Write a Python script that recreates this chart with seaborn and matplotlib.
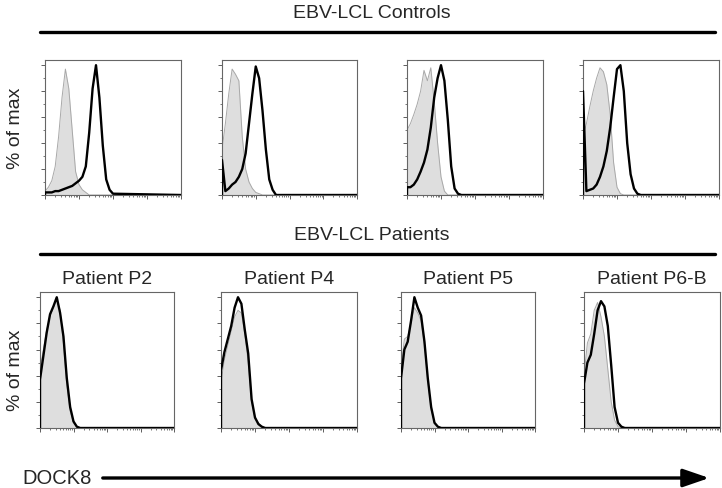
import numpy as np
import matplotlib
matplotlib.use("Agg")
import matplotlib.pyplot as plt
import seaborn as sns
from matplotlib.lines import Line2D
from matplotlib.patches import FancyArrowPatch

# --- data: % of max, x in log decades ---
decades = [0.0, 0.1, 0.2, 0.3, 0.4, 0.5, 0.6, 0.7, 0.8, 0.9, 1.0,
           1.1, 1.2, 1.3, 1.4, 1.5, 1.6, 1.7, 1.8, 1.9, 2.0, 4.0]

ctrl1_gray = [3, 6, 11, 22, 45, 75, 97, 82, 50, 18, 8, 4, 2, 0, 0, 0, 0, 0, 0, 0, 0, 0]
ctrl1_black = [2, 2, 2, 3, 3, 4, 5, 6, 7, 9, 11, 14, 22, 48, 82, 100, 75, 38, 12, 4, 1, 0]
ctrl2_gray = [35, 55, 78, 97, 93, 88, 45, 20, 10, 5, 2, 1, 0, 0, 0, 0, 0, 0, 0, 0, 0, 0]
ctrl2_black = [27, 3, 5, 8, 10, 14, 20, 32, 55, 78, 99, 90, 65, 35, 12, 4, 0, 0, 0, 0, 0, 0]
ctrl3_gray = [50, 55, 62, 70, 80, 96, 88, 98, 72, 40, 14, 3, 0, 0, 0, 0, 0, 0, 0, 0, 0, 0]
ctrl3_black = [6, 6, 8, 12, 18, 25, 35, 52, 75, 90, 100, 88, 58, 22, 5, 1, 0, 0, 0, 0, 0, 0]
ctrl4_gray = [45, 55, 68, 80, 90, 98, 95, 85, 62, 25, 6, 1, 0, 0, 0, 0, 0, 0, 0, 0, 0, 0]
ctrl4_black = [80, 3, 4, 5, 8, 14, 22, 34, 52, 75, 97, 100, 80, 40, 16, 5, 1, 0, 0, 0, 0, 0]

pat2_gray = [45, 60, 75, 85, 92, 98, 90, 65, 33, 13, 4, 1, 0, 0, 0, 0, 0, 0, 0, 0, 0, 0]
pat2_black = [37, 55, 73, 87, 93, 100, 88, 70, 38, 16, 5, 1, 0, 0, 0, 0, 0, 0, 0, 0, 0, 0]
pat4_gray = [35, 52, 63, 74, 85, 90, 88, 72, 50, 20, 7, 4, 1, 0, 0, 0, 0, 0, 0, 0, 0, 0]
pat4_black = [44, 58, 68, 78, 92, 100, 95, 75, 57, 22, 8, 3, 1, 0, 0, 0, 0, 0, 0, 0, 0, 0]
pat5_gray = [45, 68, 70, 80, 92, 88, 82, 64, 36, 14, 4, 1, 0, 0, 0, 0, 0, 0, 0, 0, 0, 0]
pat5_black = [38, 60, 66, 82, 100, 92, 86, 66, 38, 16, 4, 1, 0, 0, 0, 0, 0, 0, 0, 0, 0, 0]
pat6_gray = [40, 65, 72, 90, 96, 85, 70, 45, 20, 6, 1, 0, 0, 0, 0, 0, 0, 0, 0, 0, 0, 0]
pat6_black = [34, 50, 56, 72, 90, 97, 93, 78, 48, 16, 4, 1, 0, 0, 0, 0, 0, 0, 0, 0, 0, 0]

patient_titles = ["Patient P2", "Patient P4", "Patient P5", "Patient P6-B"]

top_curves = [(ctrl1_gray, ctrl1_black), (ctrl2_gray, ctrl2_black),
              (ctrl3_gray, ctrl3_black), (ctrl4_gray, ctrl4_black)]
bottom_curves = [(pat2_gray, pat2_black), (pat4_gray, pat4_black),
                 (pat5_gray, pat5_black), (pat6_gray, pat6_black)]

sns.set_style("ticks")
plt.rcParams['font.family'] = ['Liberation Sans', 'DejaVu Sans']

W, H = 722, 488
fig = plt.figure(figsize=(W / 100, H / 100), dpi=100)


def px_axes(x0, y0, x1, y1):
    return fig.add_axes([x0 / W, 1 - y1 / H, (x1 - x0) / W, (y1 - y0) / H])


def draw_panel(ax, gray, black):
    x = np.array(decades)
    ax.fill_between(x, 0, gray, color='#dedede', lw=0, zorder=1)
    sns.lineplot(x=x, y=gray, ax=ax, color='#a8a8a8', lw=0.7,
                 estimator=None, sort=False, zorder=2)
    # histogram outline starts from the axis
    bx = np.concatenate([[0.0], x])
    by = np.concatenate([[0.0], black])
    sns.lineplot(x=bx, y=by, ax=ax, color='black', lw=1.7,
                 estimator=None, sort=False, zorder=3)
    ax.set_xlim(0, 4)
    ax.set_ylim(0, 104)
    ax.set_xticks([0, 1, 2, 3, 4])
    ax.set_xticks([d + np.log10(k) for d in range(4) for k in range(2, 10)], minor=True)
    ax.set_yticks(range(0, 101, 20))
    ax.set_yticks(range(10, 101, 20), minor=True)
    ax.set_xticklabels([])
    ax.set_yticklabels([])
    ax.set_xlabel('')
    ax.set_ylabel('')
    ax.tick_params(which='major', direction='out', length=3, width=0.6, color='#444')
    ax.tick_params(which='minor', direction='out', length=1.6, width=0.5, color='#444')
    for s in ax.spines.values():
        s.set_visible(True)
        s.set_color('#666666')
        s.set_linewidth(0.8)


top_x = [(45, 181), (222, 357), (407, 543), (583, 719)]
bottom_x = [(40, 174), (221, 357), (401, 535), (584, 720)]

for (x0, x1), (g, b) in zip(top_x, top_curves):
    ax = px_axes(x0, 60, x1, 195)
    draw_panel(ax, g, b)

for (x0, x1), (g, b), title in zip(bottom_x, bottom_curves, patient_titles):
    ax = px_axes(x0, 292, x1, 428)
    draw_panel(ax, g, b)
    fig.text((x0 + x1) / 2 / W, 1 - 279 / H, title, ha='center', va='center', fontsize=14)

# group headers with rules
fig.text(372 / W, 1 - 13 / H, "EBV-LCL Controls", ha='center', va='center', fontsize=14)
fig.add_artist(Line2D([40 / W, 715 / W], [1 - 32 / H] * 2, color='black', lw=2.4))
fig.text(372 / W, 1 - 236 / H, "EBV-LCL Patients", ha='center', va='center', fontsize=14)
fig.add_artist(Line2D([40 / W, 715 / W], [1 - 254 / H] * 2, color='black', lw=2.4))

fig.text(15 / W, 1 - 128 / H, "% of max", rotation=90, ha='center', va='center', fontsize=14)
fig.text(15 / W, 1 - 370 / H, "% of max", rotation=90, ha='center', va='center', fontsize=14)

fig.text(22 / W, 1 - 478 / H, "DOCK8", ha='left', va='center', fontsize=14.5)
fig.add_artist(FancyArrowPatch((100 / W, 1 - 478 / H), (712 / W, 1 - 478 / H),
                               transform=fig.transFigure,
                               arrowstyle='-|>,head_length=1.6,head_width=0.55',
                               mutation_scale=10, lw=2.4, color='black'))

plt.savefig('out.png', dpi=100)
